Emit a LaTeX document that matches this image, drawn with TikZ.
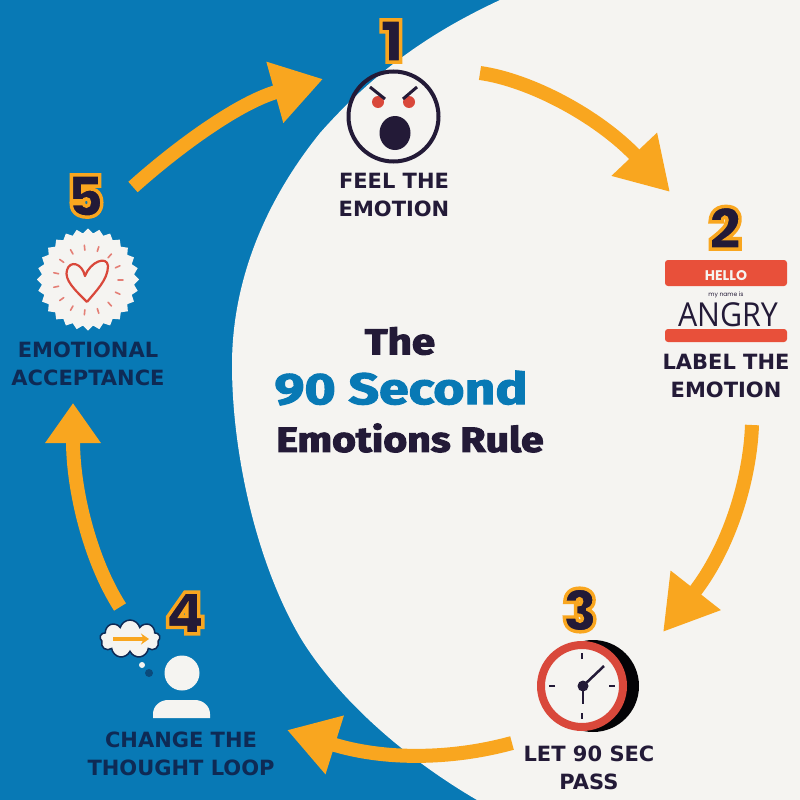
\documentclass[tikz,border=0pt]{standalone}
\usepackage{fontspec}
\usetikzlibrary{arrows.meta,shapes.geometric,shapes.symbols}
\setmainfont{Poppins}
\newfontfamily\titlefont{Fira Sans}
\newfontfamily\handfont{Open Sans}
\newfontfamily\labfont{DejaVu Sans}
\newfontfamily\digitfont{Poppins Black}
\newcommand{\strokedtext}[3]{\special{pdf:code q 2 Tr #1 w #2 RG}#3\special{pdf:code Q}}
\newcommand{\rimmed}[1]{\strokedtext{3.4}{0.976 0.651 0.122}{#1}}
\definecolor{bgblue}{HTML}{0879B5}
\definecolor{paper}{HTML}{F5F4F1}
\definecolor{amber}{HTML}{F9A61F}
\definecolor{ink}{HTML}{231A37}
\definecolor{navy}{HTML}{0E2A55}
\definecolor{tagred}{HTML}{E8503A}
\definecolor{ringred}{HTML}{D9483B}
\tikzset{
  flow/.style={amber,line width=14pt,line cap=butt},
  num/.style={inner sep=0pt,font=\digitfont\fontsize{58}{58}\selectfont,text=ink},
  lab/.style={inner sep=0pt,align=center,text=ink,font=\labfont\fontsize{21}{28}\selectfont\bfseries},
  labd/.style={lab,text=navy},
  titl/.style={inner sep=0pt,text=ink,xscale=1.17},
  ray/.style={line width=1.6pt,draw=ringred!70!white,line cap=round}
}
\begin{document}
\begin{tikzpicture}[x=1pt,y=-1pt]
\useasboundingbox (0,0) rectangle (800,800);
\fill[bgblue] (0,0) rectangle (800,800);
\fill[paper] (800,0) -- (500,0) .. controls (440,28) and (380,65) .. (320,133)
  .. controls (262,205) and (232,285) .. (232,365)
  .. controls (232,450) and (255,560) .. (300,637)
  .. controls (335,695) and (400,755) .. (477,800) -- (800,800) -- cycle;

% step 1
\node[draw=ink,line width=4pt,circle,minimum size=90pt,inner sep=0pt] (face) at (393.5,116.5) {};
\node[fill=ink,ellipse,minimum width=31pt,minimum height=34pt,inner sep=0pt] (mouth) at (395,133) {};
\node[fill=ringred,circle,minimum size=12pt,inner sep=0pt] (eyeL) at (378,102) {};
\node[fill=ringred,circle,minimum size=12pt,inner sep=0pt] (eyeR) at (409,102) {};
\draw[ink,line width=3pt] (370,87) -- (385,99);
\draw[ink,line width=3pt] (417,87) -- (403,99);
\node[num] (n1) at (392,41) {\rimmed{1}};
\node[lab] (l1) at (394,195) {FEEL THE\\EMOTION};

% step 2
\fill[tagred,rounded corners=3pt] (665,260) rectangle (787,286);
\fill[tagred,rounded corners=3pt] (665,329) rectangle (787,342);
\node[inner sep=0pt,text=paper,font=\fontsize{14}{14}\selectfont\bfseries] (hello) at (726,276) {HELLO};
\node[inner sep=0pt,text=ink,font=\fontsize{6}{6}\selectfont] (myname) at (726,295) {my name is};
\node[inner sep=0pt,text=ink,font=\handfont\fontsize{33}{33}\selectfont,xscale=.92] (angry) at (728,315) {ANGRY};
\node[num] (n2) at (725,228) {\rimmed{2}};
\node[lab] (l2) at (726,376) {LABEL THE\\EMOTION};

% step 3
\fill[black!90!ink] (593,686) circle (46);
\node[circle,fill=paper,draw=ringred,line width=8pt,minimum size=82pt,inner sep=0pt] (clock) at (582,686) {};
\foreach \a in {0,90,180,270} \draw[ink,line width=2pt] (582,686) ++(\a:27) -- ++(\a:6);
\coordinate (hub) at (583,686);
\draw[ink,line width=2.5pt] (hub) -- (604,666);
\draw[ink,line width=2.5pt] (hub) -- (583,704);
\fill[ink] (hub) circle (5.5);
\node[num] (n3) at (580,610) {\rimmed{3}};
\node[lab] (l3) at (589,768) {LET 90 SEC\\PASS};

% step 4
\node[cloud,cloud puffs=9,cloud puff arc=150,aspect=1.6,fill=paper,draw=navy,line width=1.5pt,minimum width=60pt,minimum height=38pt,inner sep=0pt] (cloudn) at (130,639) {};
\coordinate (cl) at (113,639);
\coordinate (cr) at (149,639);
\draw[amber,line width=4pt,-{Stealth[length=8pt,width=11pt]}] (cl) -- (cr);
\fill[paper] (142,665) circle (3);
\fill[navy!60!bgblue] (149,673) circle (4);
\node[circle,fill=paper,minimum size=35pt,inner sep=0pt] (head) at (182,673) {};
\fill[paper] (153,718) -- (153,714) .. controls (153,706) and (160,700) .. (168,700) -- (195,700) .. controls (203,700) and (210,706) .. (210,714) -- (210,718) -- cycle;
\node[num] (n4) at (185,613) {\rimmed{4}};
\node[labd] (l4) at (181,754) {CHANGE THE\\THOUGHT LOOP};

% step 5
\node[star,star points=28,star point ratio=1.1,fill=paper,minimum size=102pt,inner sep=0pt] (burst) at (88,279.5) {};
\draw[ringred,line width=2.2pt,line join=round] (87,302) .. controls (75,290) and (64,280) .. (67,270)
  .. controls (70,260) and (82,263) .. (85,276)
  .. controls (90,262) and (107,255) .. (108,266)
  .. controls (108,280) and (95,292) .. (87,302);
\foreach \a in {0,24,...,336} \draw[ray] (88,280) ++(\a:30) -- ++(\a:5);
\node[num] (n5) at (85,196) {\rimmed{5}};
\node[labd] (l5) at (88,364) {EMOTIONAL\\ACCEPTANCE};

% title
\node[titl,font=\titlefont\bfseries\fontsize{36}{36}\selectfont] (t1) at (400,341) {\strokedtext{1}{0.137 0.102 0.216}{The}};
\node[titl,text=bgblue,xscale=1.04,font=\titlefont\bfseries\fontsize{44}{44}\selectfont] (t2) at (401,388) {\strokedtext{1}{0.031 0.475 0.71}{90 Second}};
\node[titl,font=\titlefont\bfseries\fontsize{35}{35}\selectfont] (t3) at (410,438) {\strokedtext{1}{0.137 0.102 0.216}{Emotions Rule}};

% connectors
\coordinate (a1s) at (133,187);
\coordinate (a1e) at (323,79);
\coordinate (a2s) at (480,73);
\coordinate (a2e) at (670,192);
\coordinate (a3s) at (752,425);
\coordinate (a3e) at (663,632);
\coordinate (a4s) at (512,743);
\coordinate (a4e) at (287,730);
\coordinate (a5s) at (120,607);
\coordinate (a5e) at (73,403);
\draw[flow,-{Triangle[length=50pt,width=60pt]}] (a1s) .. controls (180,145) and (240,102) .. (a1e);
\draw[flow,-{Triangle[length=52pt,width=59pt]}] (a2s) .. controls (530,80) and (598,116) .. (a2e);
\draw[flow,-{Triangle[length=53pt,width=60pt]}] (a3s) .. controls (750,480) and (729,548) .. (a3e);
\draw[flow,-{Triangle[length=50pt,width=58pt]}] (a4s) .. controls (450,760) and (383,760) .. (a4e);
\draw[flow,-{Triangle[length=40pt,width=53pt]}] (a5s) .. controls (90,560) and (73,490) .. (a5e);
\end{tikzpicture}
\end{document}
